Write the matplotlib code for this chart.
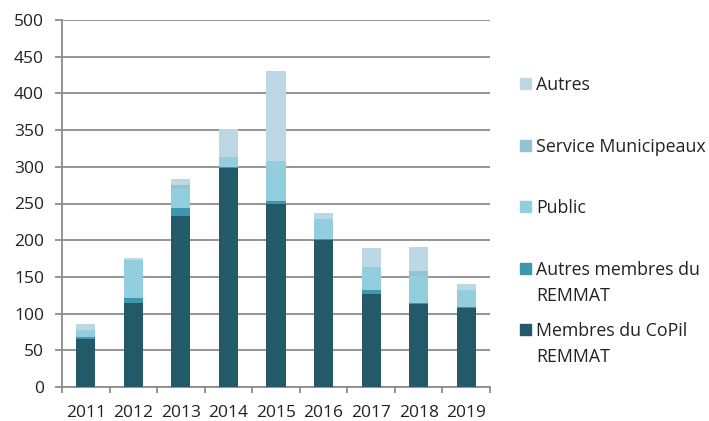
import matplotlib
matplotlib.use("Agg")
import matplotlib.pyplot as plt
from matplotlib.patches import Rectangle
import numpy as np

years = ["2011", "2012", "2013", "2014", "2015", "2016", "2017", "2018", "2019"]
copil = [66, 115, 233, 299, 249, 200, 127, 113, 108]
autres_membres = [2, 6, 11, 1, 5, 1, 5, 1, 1]
public = [10, 52, 26, 13, 54, 28, 31, 37, 23]
service_mun = [0, 0, 5, 0, 0, 0, 0, 7, 0]
autres = [8, 3, 9, 39, 122, 8, 26, 33, 8]

series = [
    ("Membres du CoPil\nREMMAT", copil, "#235A6A"),
    ("Autres membres du\nREMMAT", autres_membres, "#3F97AE"),
    ("Public", public, "#93CEDE"),
    ("Service Municipeaux", service_mun, "#94C3D3"),
    ("Autres", autres, "#BCD8E4"),
]

plt.rcParams['font.family'] = ['Open Sans', 'DejaVu Sans']
W, H = 709, 421
fig = plt.figure(figsize=(W/100, H/100), dpi=100)
ax = fig.add_axes([62/W, 1-387/H, (490-62)/W, (387-20)/H])

x = np.arange(len(years))
bottom = np.zeros(len(years))
for label, vals, color in series:
    ax.bar(x, vals, width=0.4, bottom=bottom, color=color, label=label, zorder=3)
    bottom += np.array(vals)

ax.set_xlim(-0.5, len(years) - 0.5)
ax.set_ylim(0, 500)
ax.set_yticks(np.arange(0, 501, 50))
ax.yaxis.grid(True, color="#8c8c8c", linewidth=1.3, zorder=0)
ax.set_axisbelow(True)
ax.set_xticks(x)
ax.set_xticklabels(years)
ax.set_xticks(np.arange(-0.5, len(years), 1), minor=True)
ax.tick_params(axis='x', which='major', length=0, labelsize=12.5, pad=13, colors="#222222")
ax.tick_params(axis='x', which='minor', length=4.5, color="#8c8c8c", width=1.3)
ax.tick_params(axis='y', length=5, color="#8c8c8c", width=1.3, labelsize=12.5, pad=8, labelcolor="#222222")
for s in ["top", "right"]:
    ax.spines[s].set_visible(False)
for s in ["left", "bottom"]:
    ax.spines[s].set_color("#8c8c8c")
    ax.spines[s].set_linewidth(1.3)

# legend entries placed manually (reverse order, evenly spaced)
leg_y = [83, 145, 206, 268, 329]
for (label, vals, color), yy in zip(series[::-1], leg_y):
    sq = 11
    fig.patches.append(Rectangle((520/W, 1-(yy+sq/2)/H), sq/W, sq/H,
                                 transform=fig.transFigure, color=color, figure=fig))
    fig.text(536/W, 1-(yy-7)/H, label, ha="left", va="top", fontsize=12.8,
             color="#222222", linespacing=1.55)

fig.savefig("out.png", dpi=100)
